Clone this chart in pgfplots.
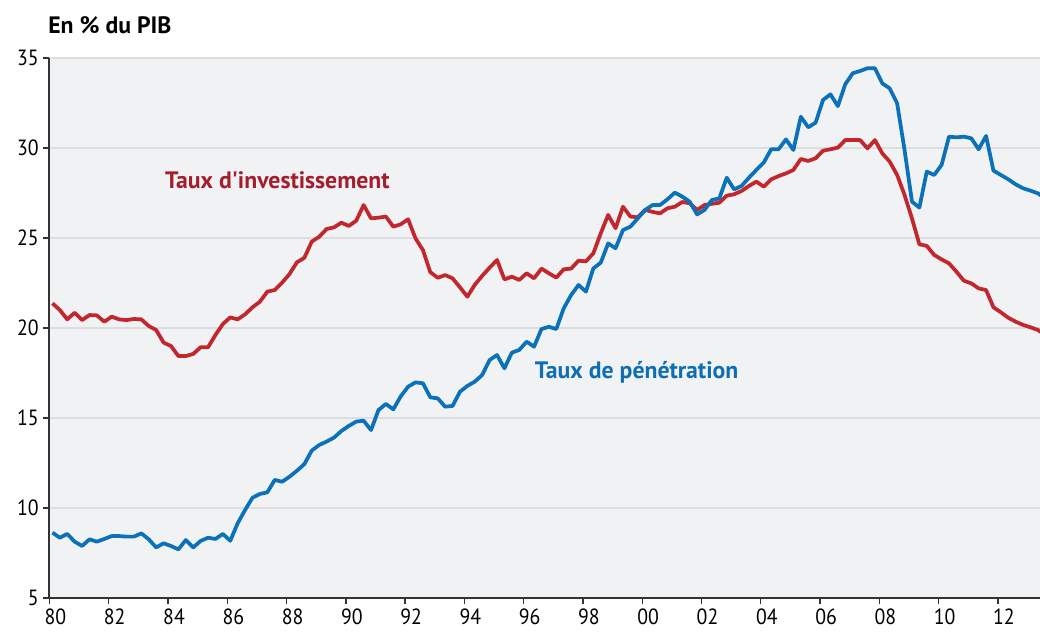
\documentclass[border=0pt]{standalone}
\usepackage{fontspec}
\setmainfont{PT Sans}
\newfontfamily\lblfont{PT Sans}[Ligatures=TeXOff]
\newfontfamily\tickfont{PT Sans}[FakeStretch=0.9]
\usepackage{pgfplots}
\usepackage{pgfplotstable}
\pgfplotsset{compat=1.18}
\definecolor{inv}{HTML}{C1272D}
\definecolor{invtxt}{HTML}{A51D2D}
\definecolor{pen}{HTML}{0B72BA}
\definecolor{pentxt}{HTML}{0D6EB4}
\definecolor{bg}{HTML}{F1F2F4}
\definecolor{grd}{HTML}{DCDDE0}
\definecolor{axl}{HTML}{333333}
\pgfplotstableread{
t inv pen
1980.10 21.37 8.63
1980.35 21.00 8.35
1980.60 20.48 8.56
1980.85 20.85 8.13
1981.10 20.44 7.89
1981.35 20.72 8.26
1981.60 20.70 8.13
1981.85 20.35 8.28
1982.10 20.63 8.44
1982.35 20.48 8.44
1982.60 20.44 8.41
1982.85 20.50 8.41
1983.10 20.48 8.59
1983.35 20.11 8.26
1983.60 19.89 7.81
1983.85 19.19 8.04
1984.10 19.00 7.89
1984.35 18.44 7.70
1984.60 18.44 8.22
1984.85 18.56 7.81
1985.10 18.93 8.17
1985.35 18.93 8.35
1985.60 19.61 8.28
1985.85 20.22 8.56
1986.10 20.59 8.18
1986.35 20.48 9.15
1986.60 20.76 9.89
1986.85 21.15 10.57
1987.10 21.46 10.78
1987.35 22.02 10.87
1987.60 22.11 11.56
1987.85 22.52 11.46
1988.10 23.00 11.74
1988.35 23.65 12.07
1988.60 23.90 12.44
1988.85 24.80 13.19
1989.10 25.07 13.50
1989.35 25.50 13.69
1989.60 25.59 13.91
1989.85 25.85 14.28
1990.10 25.67 14.56
1990.35 25.96 14.80
1990.60 26.83 14.85
1990.85 26.09 14.33
1991.10 26.13 15.44
1991.35 26.19 15.78
1991.60 25.63 15.48
1991.85 25.76 16.20
1992.10 26.04 16.74
1992.35 24.98 16.98
1992.60 24.33 16.93
1992.85 23.10 16.15
1993.10 22.79 16.09
1993.35 22.94 15.63
1993.60 22.76 15.67
1993.85 22.26 16.46
1994.10 21.74 16.78
1994.35 22.40 17.02
1994.60 22.90 17.39
1994.85 23.35 18.22
1995.10 23.78 18.50
1995.35 22.70 17.76
1995.60 22.85 18.63
1995.85 22.67 18.78
1996.10 23.04 19.24
1996.35 22.76 18.96
1996.60 23.30 19.94
1996.85 23.04 20.07
1997.10 22.80 19.94
1997.35 23.26 21.09
1997.60 23.30 21.83
1997.85 23.74 22.39
1998.10 23.70 22.02
1998.35 24.15 23.31
1998.60 25.26 23.63
1998.85 26.28 24.70
1999.10 25.54 24.43
1999.35 26.74 25.44
1999.60 26.19 25.63
1999.85 26.15 26.09
2000.10 26.56 26.56
2000.35 26.45 26.83
2000.60 26.37 26.83
2000.85 26.65 27.15
2001.10 26.74 27.52
2001.35 27.00 27.30
2001.60 26.93 27.02
2001.85 26.56 26.31
2002.10 26.83 26.56
2002.35 26.90 27.11
2002.60 26.96 27.20
2002.85 27.35 28.35
2003.10 27.43 27.70
2003.35 27.61 27.89
2003.60 27.89 28.35
2003.85 28.13 28.78
2004.10 27.85 29.19
2004.35 28.26 29.93
2004.60 28.44 29.93
2004.85 28.59 30.48
2005.10 28.78 29.89
2005.35 29.39 31.74
2005.60 29.28 31.15
2005.85 29.43 31.41
2006.10 29.85 32.67
2006.35 29.93 32.98
2006.60 30.02 32.33
2006.85 30.44 33.54
2007.10 30.44 34.15
2007.35 30.44 34.28
2007.60 29.98 34.43
2007.85 30.44 34.43
2008.10 29.70 33.59
2008.35 29.24 33.31
2008.60 28.50 32.48
2008.85 27.39 29.89
2009.10 26.09 27.02
2009.35 24.65 26.69
2009.60 24.56 28.69
2009.85 24.06 28.50
2010.10 23.81 29.06
2010.35 23.59 30.63
2010.60 23.13 30.59
2010.85 22.63 30.63
2011.10 22.48 30.54
2011.35 22.20 29.93
2011.60 22.11 30.67
2011.85 21.15 28.74
2012.10 20.87 28.50
2012.35 20.57 28.26
2012.60 20.35 27.98
2012.85 20.17 27.76
2013.10 20.04 27.63
2013.35 19.89 27.48
2013.60 19.60 27.20
}\datatable
\begin{document}
\begin{tikzpicture}
\begin{axis}[
  at={(37.1pt,25.5pt)}, anchor=south west,
  scale only axis, width=742.9pt, height=405pt,
  xmin=1980, xmax=2013.42, ymin=5, ymax=35,
  axis background/.style={fill=bg},
  axis lines*=left,
  axis line style={-, draw=axl, line width=1.5pt},
  xtick={1980,1982,...,2012},
  xticklabels={80,82,84,86,88,90,92,94,96,98,00,02,04,06,08,10,12},
  ytick={5,10,...,35},
  tick align=outside,
  major tick length=4.5pt,
  tick style={draw=axl, line width=1pt},
  ymajorgrids, grid style={draw=grd, line width=1.2pt},
  /pgf/number format/assume math mode=true,
  tick label style={font=\tickfont\fontsize{16.5}{19}\selectfont, text=black},
  xticklabel style={xshift=4.5pt},
  clip=true,
]
\addplot[draw=inv, line width=2.8pt, line join=round, no marks] table[x=t, y=inv] {\datatable};
\addplot[draw=pen, line width=2.8pt, line join=round, no marks] table[x=t, y=pen] {\datatable};
\node[text=invtxt, font=\lblfont\bfseries\fontsize{17.8}{21}\selectfont] at (axis cs:1987.69,28.22) {Taux d'investissement};
\node[text=pentxt, font=\lblfont\bfseries\fontsize{17.8}{21}\selectfont] at (axis cs:1999.81,17.56) {Taux de pénétration};
\end{axis}
\node[anchor=west, font=\bfseries\fontsize{17.8}{21}\selectfont, inner sep=0pt] at (36pt,455.25pt) {En \% du PIB};
\pgfresetboundingbox
\path[use as bounding box] (0,0) rectangle (780pt,474pt);
\end{tikzpicture}
\end{document}
